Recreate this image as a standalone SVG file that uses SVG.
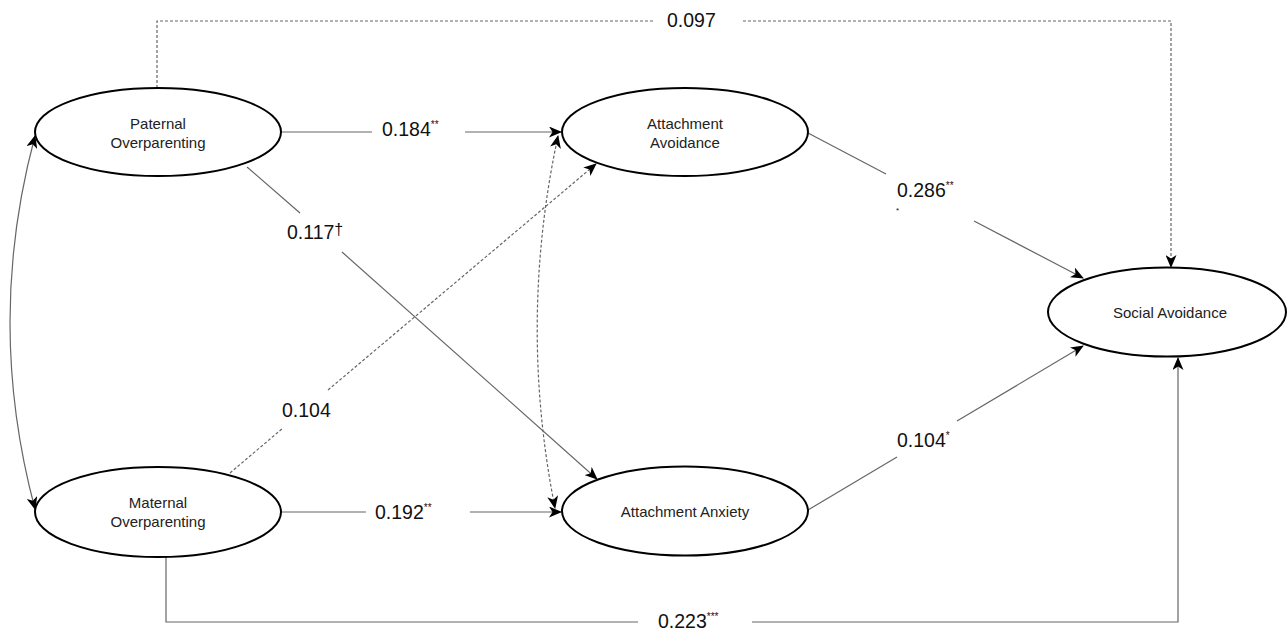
<svg xmlns="http://www.w3.org/2000/svg" width="1287" height="631" viewBox="0 0 1287 631">
<style>
.node ellipse{fill:#fff;stroke:#000;stroke-width:2}
.nt{font-family:"Liberation Sans",Arial,sans-serif;font-size:15px;fill:#222;text-anchor:middle}
.el{font-family:"Liberation Sans",Arial,sans-serif;font-size:19.5px;fill:#111}
.sup{font-size:10px}
.c{fill:none;stroke:#666;stroke-width:1.2}
.d{stroke-dasharray:3,2}
</style>
<defs>
<marker id="arr" viewBox="0 0 13 11" refX="12" refY="5.5" markerWidth="13" markerHeight="11" orient="auto-start-reverse" markerUnits="userSpaceOnUse">
<path d="M0,0 L13,5.5 L0,11 L3.5,5.5 z" fill="#000"/>
</marker>
</defs>
<g id="connectors">
<path class="c d" d="M157,88 V21 H655"/>
<path class="c d" d="M743,21 H1171 V267" marker-end="url(#arr)"/>
<path class="c" d="M166,557 V622 H638"/>
<path class="c" d="M752,622 H1178 V358" marker-end="url(#arr)"/>
<path class="c" d="M282,132 H372"/>
<path class="c" d="M465,132 H561" marker-end="url(#arr)"/>
<path class="c" d="M282,512 H366"/>
<path class="c" d="M470,512 H561" marker-end="url(#arr)"/>
<path class="c" d="M247,167 L300,213"/>
<path class="c" d="M342,252 L597,479" marker-end="url(#arr)"/>
<path class="c d" d="M230,473 L283,428"/>
<path class="c d" d="M328,390 L596,164" marker-end="url(#arr)"/>
<path class="c" d="M808,133 L886,174"/>
<path class="c" d="M974,221 L1083,278" marker-end="url(#arr)"/>
<path class="c" d="M808,510 L897,457"/>
<path class="c" d="M957,421 L1083,346" marker-end="url(#arr)"/>
<path class="c d" d="M558,136 Q518,322 555,508" marker-start="url(#arr)" marker-end="url(#arr)"/>
<path class="c" d="M35,136 Q-15,322 35,509" marker-start="url(#arr)" marker-end="url(#arr)"/>
</g>
<g id="labels">
<text class="el" x="667" y="27">0.097</text>
<text class="el" x="382" y="136">0.184<tspan class="sup" dy="-8">**</tspan></text>
<text class="el" x="287" y="239">0.117<tspan dy="-4" font-size="16">†</tspan></text>
<text class="el" x="282" y="417">0.104</text>
<text class="el" x="375" y="519">0.192<tspan class="sup" dy="-8">**</tspan></text>
<text class="el" x="658" y="628">0.223<tspan class="sup" dy="-8">***</tspan></text>
<text class="el" x="897" y="197">0.286<tspan class="sup" dy="-8">**</tspan></text>
<text class="el" x="896" y="213" style="font-size:8px">*</text>
<text class="el" x="897" y="447">0.104<tspan class="sup" dy="-8">*</tspan></text>
</g>
<g id="paternal" class="node">
<ellipse cx="158" cy="132" rx="123" ry="44"/>
<text class="nt" x="158" y="129">Paternal</text>
<text class="nt" x="158" y="148">Overparenting</text>
</g>
<g id="maternal" class="node">
<ellipse cx="158" cy="512" rx="123" ry="45"/>
<text class="nt" x="158" y="508">Maternal</text>
<text class="nt" x="158" y="527">Overparenting</text>
</g>
<g id="avoidance" class="node">
<ellipse cx="685" cy="132" rx="123" ry="44"/>
<text class="nt" x="685" y="129">Attachment</text>
<text class="nt" x="685" y="148">Avoidance</text>
</g>
<g id="anxiety" class="node">
<ellipse cx="685" cy="511" rx="123" ry="44.5"/>
<text class="nt" x="685" y="517">Attachment Anxiety</text>
</g>
<g id="social" class="node">
<ellipse cx="1167" cy="312" rx="119" ry="44.5"/>
<text class="nt" x="1170" y="318">Social Avoidance</text>
</g>
</svg>
